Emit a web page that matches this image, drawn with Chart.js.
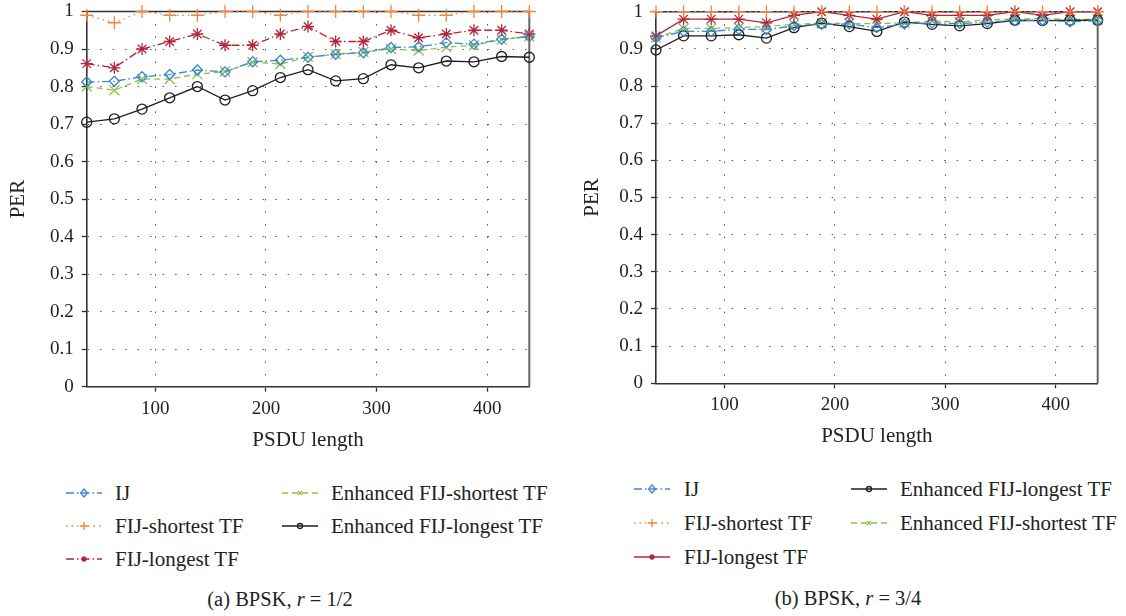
<!DOCTYPE html>
<html>
<head>
<meta charset="utf-8">
<title>PER vs PSDU length</title>
<script src="https://cdn.jsdelivr.net/npm/chart.js@4.4.0/dist/chart.umd.min.js"></script>
<style>
  body { margin: 0; width: 1126px; height: 616px; background: #fff; position: relative; overflow: hidden;
         font-family: "Liberation Serif", "Times New Roman", "DejaVu Serif", serif; color: #222; }
  canvas { position: absolute; top: 0; }
  #chartA { left: 0; }
  #chartB { left: 563px; }
  .item { position: absolute; white-space: nowrap; font-size: 21px; line-height: 24px; height: 24px; }
  .item svg { position: absolute; top: 2px; left: 0; }
  .item span { position: absolute; top: 0; }
  .caption { position: absolute; font-size: 20.5px; line-height: 24px; white-space: nowrap; transform: translateX(-50%); }
</style>
</head>
<body>
<canvas id="chartA" width="563" height="460"></canvas>
<canvas id="chartB" width="563" height="456"></canvas>
<div id="legendA"></div>
<div id="legendB"></div>
<div class="caption" style="left:280px; top:587px;">(a) BPSK, <i>r</i> = 1/2</div>
<div class="caption" style="left:848px; top:586px;">(b) BPSK, <i>r</i> = 3/4</div>

<script>
'use strict';

// DATA: x positions (PSDU length) shared by both panels
const psduLength = [38, 63, 88, 113, 138, 163, 188, 213, 238, 263, 288, 313, 338, 363, 388, 413, 438];
const xTicks = [100, 200, 300, 400];
const yTicks = [0, 0.1, 0.2, 0.3, 0.4, 0.5, 0.6, 0.7, 0.8, 0.9, 1];

// (a) BPSK, r = 1/2
const ijA = [0.812, 0.814, 0.826, 0.832, 0.844, 0.839, 0.866, 0.870, 0.878, 0.886, 0.890, 0.904, 0.906, 0.917, 0.913, 0.926, 0.933];
const fijShortA = [0.99, 0.97, 1, 0.99, 0.99, 1, 1, 0.99, 1, 1, 1, 1, 0.99, 0.99, 1, 1, 1];
const fijLongA = [0.861, 0.85, 0.90, 0.92, 0.94, 0.91, 0.91, 0.94, 0.96, 0.92, 0.92, 0.95, 0.93, 0.94, 0.95, 0.95, 0.94];
const enhShortA = [0.80, 0.79, 0.82, 0.82, 0.833, 0.84, 0.865, 0.86, 0.879, 0.886, 0.892, 0.90, 0.896, 0.905, 0.91, 0.925, 0.934];
const enhLongA = [0.705, 0.714, 0.74, 0.77, 0.80, 0.764, 0.789, 0.824, 0.845, 0.815, 0.821, 0.858, 0.85, 0.868, 0.866, 0.88, 0.878];

// (b) BPSK, r = 3/4
const ijB = [0.93, 0.947, 0.947, 0.953, 0.952, 0.962, 0.966, 0.967, 0.957, 0.967, 0.970, 0.968, 0.972, 0.976, 0.977, 0.973, 0.976];
const fijShortB = [1, 1, 1, 1, 1, 1, 1, 1, 1, 1, 1, 1, 1, 1, 1, 1, 1];
const fijLongB = [0.935, 0.98, 0.98, 0.98, 0.97, 0.99, 1, 0.99, 0.98, 1, 0.99, 0.99, 0.99, 1, 0.99, 1, 1];
const enhLongB = [0.897, 0.935, 0.935, 0.938, 0.929, 0.957, 0.969, 0.96, 0.947, 0.972, 0.966, 0.962, 0.968, 0.977, 0.976, 0.977, 0.977];
const enhShortB = [0.93, 0.955, 0.955, 0.957, 0.960, 0.966, 0.969, 0.968, 0.968, 0.970, 0.975, 0.972, 0.978, 0.980, 0.982, 0.979, 0.979];

// colours + dash styles
const BLUE = '#3b87d4';
const ORANGE = '#f4843f';
const RED = '#b3263a';
const GREEN = '#8dc13f';
const BLACK = '#1e1e1e';
const DASHDOT = [8, 3, 1.5, 3];
const DOTTED = [1.5, 4];
const DASHED = [6, 4];

Chart.defaults.font.family = "'Liberation Serif', 'Times New Roman', 'DejaVu Serif', serif";
Chart.defaults.font.size = 19;
Chart.defaults.color = '#222';

// draws the top + right edges of the plot box
const framePlugin = {
  id: 'frame',
  beforeDatasetsDraw(chart) {
    const {ctx, chartArea: a} = chart;
    ctx.save();
    ctx.lineWidth = 1.6;
    ctx.strokeStyle = '#333';
    ctx.beginPath();
    ctx.moveTo(a.left, a.top);
    ctx.lineTo(a.right, a.top);
    ctx.stroke();
    ctx.lineWidth = 2;
    ctx.strokeStyle = '#666';
    ctx.beginPath();
    ctx.moveTo(a.right, a.top);
    ctx.lineTo(a.right, a.bottom);
    ctx.stroke();
    ctx.restore();
  }
};

function series(label, values, color, dash, pointStyle, radius) {
  return {label, values, color, dash, pointStyle, radius};
}

const seriesA = [
  series('IJ', ijA, BLUE, DASHDOT, 'rectRot', 5),
  series('FIJ-shortest TF', fijShortA, ORANGE, DOTTED, 'cross', 6.5),
  series('FIJ-longest TF', fijLongA, RED, DASHDOT, 'star', 6),
  series('Enhanced FIJ-shortest TF', enhShortA, GREEN, DASHED, 'crossRot', 7),
  series('Enhanced FIJ-longest TF', enhLongA, BLACK, [], 'circle', 5)
];
const seriesB = [
  series('IJ', ijB, BLUE, DASHDOT, 'rectRot', 5),
  series('FIJ-shortest TF', fijShortB, ORANGE, DOTTED, 'cross', 6.5),
  series('FIJ-longest TF', fijLongB, RED, [], 'star', 6),
  series('Enhanced FIJ-longest TF', enhLongB, BLACK, [], 'circle', 5),
  series('Enhanced FIJ-shortest TF', enhShortB, GREEN, DASHED, 'crossRot', 7)
];

// geo: pixel layout of each panel (axis widths, paddings)
function makeChart(canvasId, list, geo) {
  const datasets = list.map(function(s) {
    return {
      label: s.label,
      data: psduLength.map((x, i) => ({x: x, y: s.values[i]})),
      borderColor: s.color,
      borderWidth: 1.3,
      borderDash: s.dash,
      pointStyle: s.pointStyle,
      pointRadius: s.radius,
      pointBorderColor: s.color,
      pointBackgroundColor: 'rgba(0,0,0,0)',
      pointBorderWidth: 1.3,
      tension: 0,
      clip: false
    };
  });
  const ctx = document.getElementById(canvasId).getContext('2d');
  return new Chart(ctx, {
    type: 'line',
    data: {datasets: datasets},
    plugins: [framePlugin],
    options: {
      responsive: false,
      animation: false,
      events: [],
      layout: {padding: {left: 0, right: geo.padRight, top: geo.padTop, bottom: 0}},
      plugins: {legend: {display: false}, tooltip: {enabled: false}},
      scales: {
        x: {
          type: 'linear',
          min: psduLength[0],
          max: psduLength[psduLength.length - 1],
          afterBuildTicks: function(scale) { scale.ticks = xTicks.map(v => ({value: v})); },
          afterFit: function(scale) {
            scale.height = geo.xHeight;
            scale.paddingLeft = 0;
            scale.paddingRight = 0;
          },
          ticks: {padding: geo.xTickPad, maxRotation: 0, color: '#222'},
          grid: {color: '#555', lineWidth: 1, tickLength: 5, tickColor: '#333', tickWidth: 1.3, tickBorderDash: []},
          border: {display: true, color: '#333', width: 1.6, dash: [1.5, 11]},
          title: {display: true, text: 'PSDU length', font: {size: 21}, padding: {top: 0, bottom: geo.xTitlePad}, color: '#222'}
        },
        y: {
          min: 0,
          max: 1,
          afterBuildTicks: function(scale) { scale.ticks = yTicks.map(v => ({value: v})); },
          afterFit: function(scale) {
            scale.width = geo.yWidth;
            // don't let the "1" label push the plot down
            scale.paddingTop = 0;
            scale.paddingBottom = 0;
          },
          ticks: {padding: 8, color: '#222', callback: v => String(parseFloat(v.toFixed(1)))},
          grid: {color: '#555', lineWidth: 1, tickLength: 5, tickColor: '#333', tickWidth: 1.3, tickBorderDash: []},
          border: {display: true, color: '#333', width: 1.6, dash: [1.5, 11]},
          title: {display: true, text: 'PER', font: {size: 21}, padding: {top: geo.yTitlePad, bottom: 0}, color: '#222'}
        }
      }
    }
  });
}

makeChart('chartA', seriesA, {padRight: 33.7, padTop: 11.5, xHeight: 73.3, yWidth: 86.7, xTickPad: 6, xTitlePad: 7.4, yTitlePad: 5.7});
makeChart('chartB', seriesB, {padRight: 28.3, padTop: 11.7, xHeight: 72.7, yWidth: 93, xTickPad: 5.6, xTitlePad: 6.7, yTitlePad: 16.4});

// LEGEND: html legend, two columns filled top to bottom
function markerSvg(style, color) {
  const c = 'stroke="' + color + '" stroke-width="1.3" fill="none"';
  if (style === 'rectRot') return '<polygon points="18,6 21.5,10 18,14 14.5,10" ' + c + '/>';
  if (style === 'cross') return '<path d="M18,6 V14 M14,10 H22" ' + c + '/>';
  if (style === 'star') return '<path d="M18,7 V13 M15,10 H21 M16,8 L20,12 M20,8 L16,12" ' + c + ' stroke-width="1.6"/>';
  if (style === 'crossRot') return '<path d="M16,8 L20,12 M20,8 L16,12" ' + c + ' stroke-width="1.6"/>';
  return '<circle cx="18" cy="10" r="2.5" ' + c + '/>';
}

function buildLegend(el, list, cols, rows) {
  list.forEach(function(s, i) {
    const col = cols[Math.floor(i / rows.length)];
    const rowY = rows[i % rows.length];
    const item = document.createElement('div');
    item.className = 'item';
    item.style.left = col.sample + 'px';
    item.style.top = (rowY - 12) + 'px';
    item.innerHTML = '<svg width="36" height="20">' +
      '<line x1="0" y1="10" x2="36" y2="10" stroke="' + s.color + '" stroke-width="1.3" stroke-dasharray="' + (s.dash.length ? s.dash.join(' ') : 'none') + '"/>' +
      markerSvg(s.pointStyle, s.color) + '</svg>' +
      '<span style="left:' + (col.text - col.sample) + 'px">' + s.label + '</span>';
    el.appendChild(item);
  });
}

buildLegend(document.getElementById('legendA'), seriesA,
  [{sample: 66, text: 115}, {sample: 282, text: 331}], [493, 526, 559]);
buildLegend(document.getElementById('legendB'), seriesB,
  [{sample: 634, text: 684}, {sample: 851, text: 900}], [489, 523, 557]);
</script>
</body>
</html>
